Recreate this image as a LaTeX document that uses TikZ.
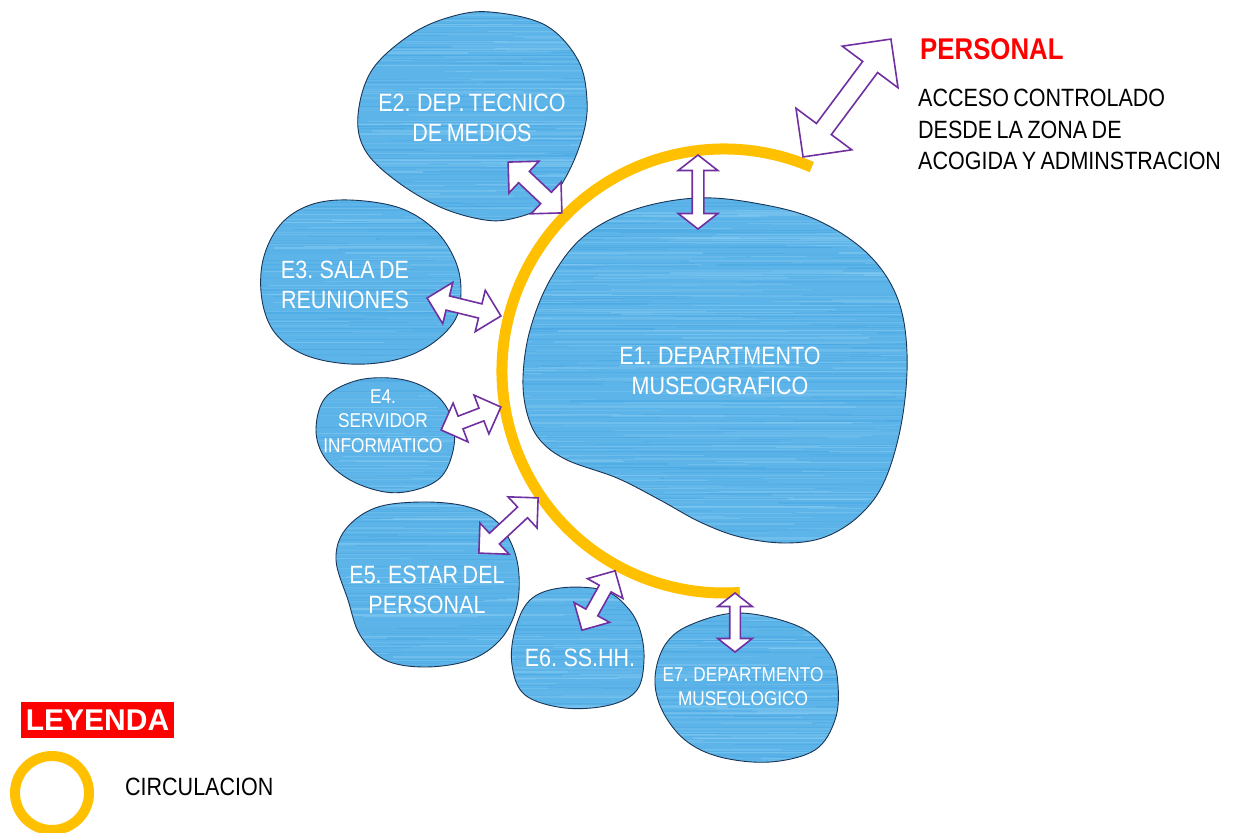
\documentclass[tikz,border=0pt]{standalone}
\usepackage{fontspec}
\setmainfont[FakeStretch=0.86,WordSpace=0.75]{Liberation Sans}
\newfontfamily\legfont{Liberation Sans}
\usetikzlibrary{shapes.arrows}
\definecolor{circ}{HTML}{FFC000}
\definecolor{apurple}{HTML}{7030A0}
\definecolor{blobblue}{HTML}{5DB4E8}
\definecolor{bloblight}{HTML}{8ACEF4}
\definecolor{blobdark}{HTML}{46A6E2}
\definecolor{blobedge}{HTML}{1B3556}
\definecolor{pred}{HTML}{FF0000}
\tikzset{
  dbl/.style 2 args={double arrow, draw=apurple, fill=white, line width=1.6pt, inner xsep=0pt, inner ysep=#1, double arrow head extend=#2},
  lab/.style={text=white, align=center, inner sep=0pt, font=\fontsize{25}{30}\selectfont},
  labs/.style={text=white, align=center, inner sep=0pt, font=\fontsize{20}{24.5}\selectfont},
  circline/.style={draw=circ, line width=11pt},
  blobline/.style={draw=blobedge, line width=0.9pt},
  blk/.style={text=black, inner sep=0pt, font=\fontsize{25}{31.5}\selectfont}
}
\def\pEone{plot[smooth cycle,tension=0.6] coordinates {(697,198) (760,204) (817,220) (867,253) (897,297) (907,353) (902,420) (885,480) (860,515) (825,537) (785,543) (740,537) (700,522) (660,500) (617,478) (567,460) (540,440) (527,413) (523,377) (530,330) (550,280) (583,237) (633,210)}}
\def\pEtwo{plot[smooth cycle,tension=0.6] coordinates {(490,12) (545,25) (578,60) (587,100) (583,135) (567,175) (545,205) (515,218) (485,220) (440,207) (395,180) (365,150) (358,115) (372,70) (410,35) (450,17)}}
\def\pEthree{plot[smooth cycle,tension=0.6] coordinates {(350,200) (400,208) (435,230) (455,260) (461,290) (455,320) (430,345) (395,360) (350,364) (305,355) (275,333) (262,300) (263,260) (280,225) (310,205)}}
\def\pEfour{plot[smooth cycle,tension=0.6] coordinates {(390,378) (420,385) (443,402) (454,428) (452,455) (440,478) (415,490) (385,492) (350,480) (325,458) (316,430) (325,398) (355,381)}}
\def\pEfive{plot[smooth cycle,tension=0.6] coordinates {(420,502) (465,506) (495,520) (512,545) (519,575) (516,610) (500,640) (470,660) (425,667) (385,660) (360,635) (348,600) (336,560) (345,530) (375,508)}}
\def\pEsix{plot[smooth cycle,tension=0.6] coordinates {(560,588) (603,590) (627,607) (640,630) (644,660) (637,690) (610,705) (565,708) (525,695) (512,665) (515,630) (530,600)}}
\def\pEseven{plot[smooth cycle,tension=0.6] coordinates {(740,613) (800,627) (830,655) (838,685) (835,720) (815,750) (770,762) (720,757) (685,740) (662,710) (655,678) (665,645) (690,625)}}
\begin{document}
\begin{tikzpicture}[x=1pt,y=-1pt]
\fill[white] (0,0) rectangle (1243,833);
\useasboundingbox (0,0) rectangle (1243,833);
% blobs with streaked texture
\begin{scope}
  \clip \pEone \pEtwo \pEthree \pEfour \pEfive \pEsix \pEseven;
  \fill[blobblue] (250,0) rectangle (920,800);
  \pgfmathsetseed{12}
  \foreach \k in {1,...,1600}{
    \pgfmathsetmacro\yy{rnd*780}
    \pgfmathsetmacro\xx{150+rnd*770}
    \pgfmathsetmacro\ll{80+rnd*300}
    \pgfmathsetmacro\lw{0.4+rnd*1.2}
    \pgfmathsetmacro\op{0.15+0.35*rnd}
    \ifodd\k \def\sc{bloblight}\else\def\sc{blobdark}\fi
    \draw[\sc, opacity=\op, line width=\lw] (\xx,\yy) -- ++(\ll,0);
  }
\end{scope}
\draw[blobline] \pEone;
\draw[blobline] \pEtwo;
\draw[blobline] \pEthree;
\draw[blobline] \pEfour;
\draw[blobline] \pEfive;
\draw[blobline] \pEsix;
\draw[blobline] \pEseven;
% circulation arc
\coordinate (cc) at (724,371);
\draw[circline] (cc) ++(-66.7:222) arc[start angle=-66.7, end angle=-274.1, radius=222];
% arrows
\node[dbl={7}{14}, minimum height=74, minimum width=42, rotate=-43.4] (a2) at (535,187.5) {};
\node[dbl={5}{14}, minimum height=74, minimum width=38, double arrow tip angle=104, rotate=90] (a1) at (698,192) {};
\node[dbl={8.5}{25.5}, minimum height=147, minimum width=68, rotate=53.3] (ap) at (847,98) {};
\node[dbl={6.5}{14}, minimum height=76, minimum width=41, rotate=-13.7] (a3) at (464,307) {};
\node[dbl={6}{14}, minimum height=64, minimum width=40, rotate=21] (a4) at (471,418.5) {};
\node[dbl={6.5}{14}, minimum height=81, minimum width=41, rotate=43] (a5) at (508.5,525.5) {};
\node[dbl={6}{13.5}, minimum height=68, minimum width=39, rotate=60.8] (a6) at (598.5,600.5) {};
\node[dbl={4.5}{12}, minimum height=59, minimum width=33, double arrow tip angle=104, rotate=90] (a7) at (735,622.5) {};
% labels
\node[lab] (e1) at (720,371) {E1. DEPARTMENTO\\MUSEOGRAFICO};
\node[lab] (e2) at (472,118) {E2. DEP. TECNICO\\DE MEDIOS};
\node[lab] (e3) at (345,285) {E3. SALA DE\\REUNIONES};
\node[labs] (e4) at (383,421) {E4.\\SERVIDOR\\INFORMATICO};
\node[lab] (e5) at (427,589.5) {E5. ESTAR DEL\\PERSONAL};
\node[lab] (e6) at (580,658) {E6. SS.HH.};
\node[labs] (e7) at (743,686.5) {E7. DEPARTMENTO\\MUSEOLOGICO};
% personal access
\node[anchor=west, inner sep=0pt, text=pred, font=\fontsize{30}{36}\selectfont\bfseries] (per) at (920,49) {PERSONAL};
\node[blk, anchor=west, align=left] (acc) at (918,129.5) {ACCESO CONTROLADO\\DESDE LA ZONA DE\\ACOGIDA Y ADMINSTRACION};
% legend
\node[fill=pred, text=white, minimum width=153, minimum height=36, inner sep=0pt, font=\legfont\fontsize{30}{36}\selectfont\bfseries] (ley) at (97.5,720) {LEYENDA};
\node[draw=circ, line width=10pt, circle, minimum size=74, inner sep=0pt] (lc) at (52,793) {};
\node[blk, anchor=west] (lt) at (125,787) {CIRCULACION};
\end{tikzpicture}
\end{document}
